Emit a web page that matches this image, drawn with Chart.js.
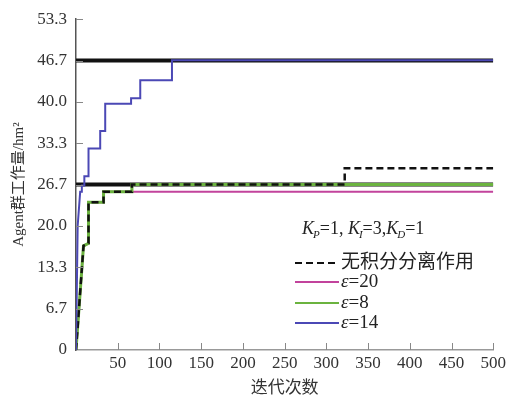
<!DOCTYPE html>
<html>
<head>
<meta charset="utf-8">
<script src="https://cdn.jsdelivr.net/npm/chart.js@4.4.1/dist/chart.umd.min.js"></script>
<style>
  body { margin: 0; background: #fff; }
  #wrap { width: 509px; height: 399px; }
</style>
</head>
<body>
<div id="wrap"><canvas id="agentChart"></canvas></div>
<script>
// 数据: 迭代次数 -> Agent群工作量
const dashX = [0, 9, 15, 15, 33, 33, 67, 67, 322, 322, 500];
const dashY = [0, 16.8, 17.2, 23.8, 23.8, 25.5, 25.5, 26.7, 26.7, 29.3, 29.3];
const eps20X = [0, 9, 15, 15, 33, 33, 500];
const eps20Y = [0, 16.8, 17.2, 23.8, 23.8, 25.5, 25.5];
const eps8X = [0, 9, 15, 15, 33, 33, 67, 67, 500];
const eps8Y = [0, 16.8, 17.2, 23.8, 23.8, 25.5, 25.5, 26.7, 26.7];
const eps14X = [0, 2, 5, 7, 7, 10, 10, 15, 15, 29, 29, 35, 35, 66, 66, 77, 77, 115, 115, 500];
const eps14Y = [0, 20, 25.5, 25.5, 26.5, 26.5, 28.0, 28.0, 32.5, 32.5, 35.3, 35.3, 39.7, 39.7, 40.6, 40.6, 43.5, 43.5, 46.7, 46.7];
const refLevels = [46.67, 26.67];
const yTickValues = [0, 6.67, 13.33, 20, 26.67, 33.33, 40, 46.67, 53.33];
const yTickLabels = ['0', '6.7', '13.3', '20.0', '26.7', '33.3', '40.0', '46.7', '53.3'];

const serif = '"Liberation Serif", "Noto Sans CJK SC", serif';

function toPoints(xs, ys) {
    return xs.map((x, i) => ({ x: x, y: ys[i] }));
}

// 刻度线朝内
const inwardTicks = {
    id: 'inwardTicks',
    afterDraw(chart) {
        const ctx = chart.ctx;
        const xs = chart.scales.x, ys = chart.scales.y;
        const area = chart.chartArea;
        ctx.save();
        ctx.strokeStyle = '#888';
        ctx.lineWidth = 1;
        ctx.beginPath();
        xs.ticks.forEach(t => {
            if (t.value === 0) return;
            const px = Math.round(xs.getPixelForValue(t.value)) + 0.5;
            ctx.moveTo(px, area.bottom);
            ctx.lineTo(px, area.bottom - 7);
        });
        ys.ticks.forEach(t => {
            if (t.value === 0) return;
            const py = Math.round(ys.getPixelForValue(t.value)) + 0.5;
            ctx.moveTo(area.left, py);
            ctx.lineTo(area.left + 7, py);
        });
        ctx.stroke();
        ctx.restore();
    }
};

// 图例和参数文字
const legendBox = {
    id: 'legendBox',
    afterDraw(chart) {
        const ctx = chart.ctx;
        ctx.save();
        ctx.fillStyle = '#222';
        ctx.textBaseline = 'alphabetic';
        // K_P=1, K_I=3,K_D=1
        let x = 302;
        const base = 234;
        const parts = [['P', '=1, '], ['I', '=3,'], ['D', '=1']];
        parts.forEach(p => {
            ctx.font = 'italic 18px ' + serif;
            ctx.fillText('K', x, base);
            x += ctx.measureText('K').width;
            ctx.font = 'italic 11px ' + serif;
            ctx.fillText(p[0], x - 1, base + 4);
            x += ctx.measureText(p[0]).width - 1;
            ctx.font = '18px ' + serif;
            ctx.fillText(p[1], x, base);
            x += ctx.measureText(p[1]).width;
        });

        const rows = [263, 282, 303, 323];
        const items = chart.data.datasets.filter(d => d.label);
        ctx.textBaseline = 'middle';
        items.forEach((d, i) => {
            const y = rows[i];
            ctx.beginPath();
            ctx.strokeStyle = d.borderColor;
            ctx.lineWidth = d.label.startsWith('ε') ? 2 : 2;
            ctx.setLineDash(d.borderDash || []);
            ctx.moveTo(295, y);
            ctx.lineTo(339, y);
            ctx.stroke();
            ctx.setLineDash([]);
            if (d.label.startsWith('ε')) {
                ctx.font = 'italic 19px ' + serif;
                ctx.fillText('ε', 341, y);
                const w = ctx.measureText('ε').width;
                ctx.font = '19px ' + serif;
                ctx.fillText(d.label.slice(1), 341 + w, y);
            } else {
                ctx.font = '19px ' + serif;
                ctx.fillText(d.label, 341, y);
            }
        });
        ctx.restore();
    }
};

const refSets = refLevels.map(v => ({
    data: [{ x: 0, y: v }, { x: 500, y: v }],
    borderColor: '#111',
    borderWidth: 4,
    order: 4
}));

const ctxAgent = document.getElementById('agentChart').getContext('2d');
const agentChart = new Chart(ctxAgent, {
    type: 'line',
    data: {
        datasets: [
            {
                label: '无积分分离作用',
                data: toPoints(dashX, dashY),
                borderColor: '#111',
                borderWidth: 2.5,
                borderDash: [7, 4],
                order: 1
            },
            {
                label: 'ε=20',
                data: toPoints(eps20X, eps20Y),
                borderColor: '#c2439c',
                borderWidth: 2,
                order: 3
            },
            {
                label: 'ε=8',
                data: toPoints(eps8X, eps8Y),
                borderColor: '#6bb33f',
                borderWidth: 3,
                order: 2
            },
            {
                label: 'ε=14',
                data: toPoints(eps14X, eps14Y),
                borderColor: '#4b48b5',
                borderWidth: 2,
                order: 0
            },
            ...refSets
        ]
    },
    options: {
        responsive: true,
        maintainAspectRatio: false,
        animation: false,
        layout: { padding: { top: 17, right: 14, left: 0, bottom: 0 } },
        elements: { point: { radius: 0 }, line: { tension: 0 } },
        plugins: {
            legend: { display: false },
            tooltip: { enabled: false }
        },
        scales: {
            x: {
                type: 'linear',
                min: 0,
                max: 500,
                ticks: {
                    stepSize: 50,
                    padding: 3,
                    color: '#333',
                    font: { family: serif, size: 17 },
                    callback: v => v === 0 ? '' : v
                },
                grid: { display: true, drawOnChartArea: false, drawTicks: false },
                border: { color: '#999', width: 1.5 },
                title: {
                    display: true,
                    text: '迭代次数',
                    color: '#333',
                    font: { family: serif, size: 17 },
                    padding: { top: 0, bottom: 0 }
                },
                afterFit: s => { s.height = 49; }
            },
            y: {
                min: 0,
                max: 53.33,
                afterBuildTicks: s => { s.ticks = yTickValues.map(v => ({ value: v })); },
                ticks: {
                    padding: 9,
                    color: '#333',
                    font: { family: serif, size: 17 },
                    callback: (v, i) => yTickLabels[i]
                },
                grid: { display: true, drawOnChartArea: false, drawTicks: false },
                border: { color: '#555', width: 1.5 },
                title: {
                    display: true,
                    text: 'Agent群工作量/hm²',
                    color: '#333',
                    font: { family: serif, size: 15 },
                    padding: { top: 10, bottom: 0 }
                },
                afterFit: s => { s.width = 76; }
            }
        }
    },
    plugins: [inwardTicks, legendBox]
});
</script>
</body>
</html>
